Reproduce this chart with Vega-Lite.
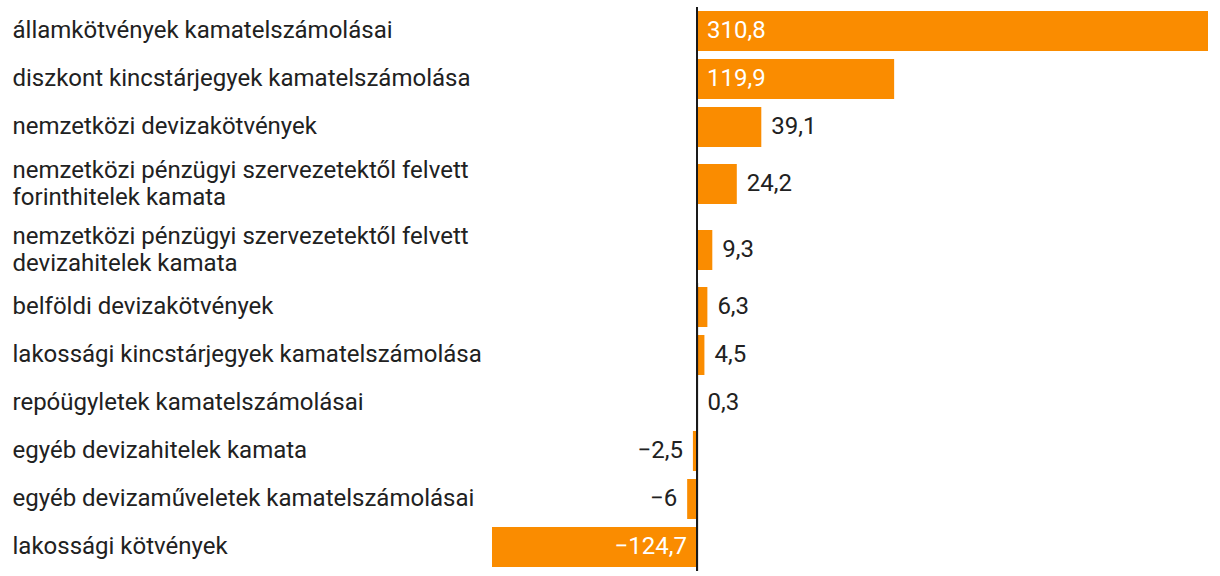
{
  "$schema": "https://vega.github.io/schema/vega-lite/v6.json",
  "padding": {"left": 12, "top": 6, "right": 12, "bottom": 6},
  "spacing": 0,
  "bounds": "flush",
  "data": {
    "values": [
      {"label": "államkötvények kamatelszámolásai", "value": 310.8},
      {"label": "diszkont kincstárjegyek kamatelszámolása", "value": 119.9},
      {"label": "nemzetközi devizakötvények", "value": 39.1},
      {"label": "nemzetközi pénzügyi szervezetektől felvett|forinthitelek kamata", "value": 24.2},
      {"label": "nemzetközi pénzügyi szervezetektől felvett|devizahitelek kamata", "value": 9.3},
      {"label": "belföldi devizakötvények", "value": 6.3},
      {"label": "lakossági kincstárjegyek kamatelszámolása", "value": 4.5},
      {"label": "repóügyletek kamatelszámolásai", "value": 0.3},
      {"label": "egyéb devizahitelek kamata", "value": -2.5},
      {"label": "egyéb devizaműveletek kamatelszámolásai", "value": -6},
      {"label": "lakossági kötvények", "value": -124.7}
    ]
  },
  "vconcat": [
    {
      "width": 716, "height": 144,
      "transform": [{"filter": {"field": "label", "oneOf": ["államkötvények kamatelszámolásai", "diszkont kincstárjegyek kamatelszámolása", "nemzetközi devizakötvények"]}}],
      "layer": [
        {"mark": {"type": "bar", "size": 40, "color": "#fa8c00"},
         "encoding": {
           "x": {"field": "value", "type": "quantitative", "scale": {"domain": [-124.7, 310.8], "nice": false}, "axis": null},
           "y": {"field": "label", "type": "nominal", "sort": null, "title": null, "scale": {"paddingInner": 0, "paddingOuter": 0}, "axis": {"labelExpr": "split(datum.label, '|')"}}}},
        {"mark": {"type": "rule", "color": "#1a1a1a", "strokeWidth": 2},
         "encoding": {"x": {"datum": 0, "type": "quantitative"}}},
        {"transform": [{"filter": "datum.value >= 0 && datum.value < 100"}],
         "mark": {"type": "text", "align": "left", "baseline": "middle", "dx": 10, "color": "#212121", "fontSize": 24},
         "encoding": {"x": {"field": "value", "type": "quantitative"}, "y": {"field": "label", "type": "nominal", "sort": null}, "text": {"field": "value", "type": "quantitative", "format": ".1~f"}}},
        {"transform": [{"filter": "datum.value >= 100"}],
         "mark": {"type": "text", "align": "left", "baseline": "middle", "dx": 10, "color": "#ffffff", "fontSize": 24},
         "encoding": {"x": {"datum": 0, "type": "quantitative"}, "y": {"field": "label", "type": "nominal", "sort": null}, "text": {"field": "value", "type": "quantitative", "format": ".1~f"}}}
      ]
    },
    {
      "width": 716, "height": 66,
      "transform": [{"filter": {"field": "label", "equal": "nemzetközi pénzügyi szervezetektől felvett|forinthitelek kamata"}}],
      "layer": [
        {"mark": {"type": "bar", "size": 40, "color": "#fa8c00"},
         "encoding": {
           "x": {"field": "value", "type": "quantitative", "scale": {"domain": [-124.7, 310.8], "nice": false}, "axis": null},
           "y": {"field": "label", "type": "nominal", "sort": null, "title": null, "scale": {"paddingInner": 0, "paddingOuter": 0}, "axis": {"labelExpr": "split(datum.label, '|')", "labelOffset": -13}}}},
        {"mark": {"type": "rule", "color": "#1a1a1a", "strokeWidth": 2},
         "encoding": {"x": {"datum": 0, "type": "quantitative"}}},
        {"mark": {"type": "text", "align": "left", "baseline": "middle", "dx": 10, "color": "#212121", "fontSize": 24},
         "encoding": {"x": {"field": "value", "type": "quantitative"}, "y": {"field": "label", "type": "nominal", "sort": null}, "text": {"field": "value", "type": "quantitative", "format": ".1~f"}}}
      ]
    },
    {
      "width": 716, "height": 66,
      "transform": [{"filter": {"field": "label", "equal": "nemzetközi pénzügyi szervezetektől felvett|devizahitelek kamata"}}],
      "layer": [
        {"mark": {"type": "bar", "size": 40, "color": "#fa8c00"},
         "encoding": {
           "x": {"field": "value", "type": "quantitative", "scale": {"domain": [-124.7, 310.8], "nice": false}, "axis": null},
           "y": {"field": "label", "type": "nominal", "sort": null, "title": null, "scale": {"paddingInner": 0, "paddingOuter": 0}, "axis": {"labelExpr": "split(datum.label, '|')", "labelOffset": -13}}}},
        {"mark": {"type": "rule", "color": "#1a1a1a", "strokeWidth": 2},
         "encoding": {"x": {"datum": 0, "type": "quantitative"}}},
        {"mark": {"type": "text", "align": "left", "baseline": "middle", "dx": 10, "color": "#212121", "fontSize": 24},
         "encoding": {"x": {"field": "value", "type": "quantitative"}, "y": {"field": "label", "type": "nominal", "sort": null}, "text": {"field": "value", "type": "quantitative", "format": ".1~f"}}}
      ]
    },
    {
      "width": 716, "height": 288,
      "transform": [{"filter": {"field": "label", "oneOf": ["belföldi devizakötvények", "lakossági kincstárjegyek kamatelszámolása", "repóügyletek kamatelszámolásai", "egyéb devizahitelek kamata", "egyéb devizaműveletek kamatelszámolásai", "lakossági kötvények"]}}],
      "layer": [
        {"mark": {"type": "bar", "size": 40, "color": "#fa8c00"},
         "encoding": {
           "x": {"field": "value", "type": "quantitative", "scale": {"domain": [-124.7, 310.8], "nice": false}, "axis": null},
           "y": {"field": "label", "type": "nominal", "sort": null, "title": null, "scale": {"paddingInner": 0, "paddingOuter": 0}, "axis": {"labelExpr": "split(datum.label, '|')"}}}},
        {"mark": {"type": "rule", "color": "#1a1a1a", "strokeWidth": 2},
         "encoding": {"x": {"datum": 0, "type": "quantitative"}}},
        {"transform": [{"filter": "datum.value >= 0"}],
         "mark": {"type": "text", "align": "left", "baseline": "middle", "dx": 10, "color": "#212121", "fontSize": 24},
         "encoding": {"x": {"field": "value", "type": "quantitative"}, "y": {"field": "label", "type": "nominal", "sort": null}, "text": {"field": "value", "type": "quantitative", "format": ".1~f"}}},
        {"transform": [{"filter": "datum.value < 0 && datum.value > -100"}],
         "mark": {"type": "text", "align": "right", "baseline": "middle", "dx": -10, "color": "#212121", "fontSize": 24},
         "encoding": {"x": {"field": "value", "type": "quantitative"}, "y": {"field": "label", "type": "nominal", "sort": null}, "text": {"field": "value", "type": "quantitative", "format": ".1~f"}}},
        {"transform": [{"filter": "datum.value <= -100"}],
         "mark": {"type": "text", "align": "right", "baseline": "middle", "dx": -10, "color": "#ffffff", "fontSize": 24},
         "encoding": {"x": {"datum": 0, "type": "quantitative"}, "y": {"field": "label", "type": "nominal", "sort": null}, "text": {"field": "value", "type": "quantitative", "format": ".1~f"}}}
      ]
    }
  ],
  "config": {
    "font": "Roboto",
    "view": {"stroke": null},
    "locale": {"number": {"decimal": ",", "thousands": " ", "grouping": [3], "currency": ["", ""]}},
    "axis": {
      "labelFont": "Roboto",
      "labelFontSize": 24,
      "labelColor": "#212121",
      "labelAlign": "left",
      "labelBaseline": "middle",
      "labelPadding": 480,
      "labelLimit": 0,
      "labelLineHeight": 27,
      "ticks": false,
      "tickSize": 0,
      "domain": false,
      "grid": false
    }
  }
}
